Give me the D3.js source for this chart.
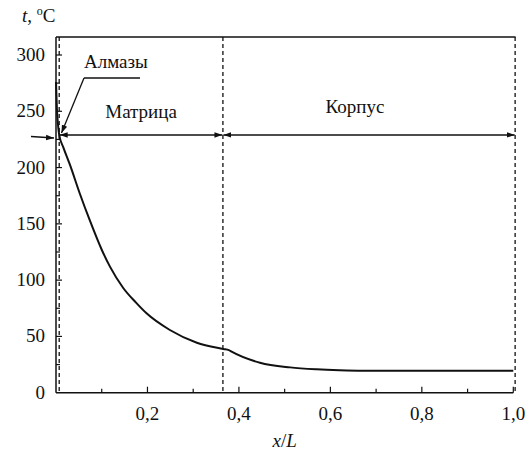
<!DOCTYPE html>
<html><head><meta charset="utf-8">
<script src="https://cdn.jsdelivr.net/npm/d3@7"></script>
<style>body{margin:0;background:#fff}svg{display:block}</style>
</head><body><div id="c"></div>
<script>
const xVals = [0, 0.002, 0.004, 0.007, 0.016, 0.03, 0.052, 0.074, 0.1, 0.118, 0.147, 0.175, 0.198, 0.249, 0.308, 0.366, 0.378, 0.384, 0.446, 0.512, 0.57, 0.62, 0.67, 0.8, 1.0];
const tVals = [276, 252, 240, 229, 218, 203, 177, 153, 127, 112, 93, 80, 70.5, 55.7, 44.4, 38.8, 37.8, 36.4, 26.6, 22.5, 20.8, 20.0, 19.6, 19.6, 19.6];
const xTicks = [0.2, 0.4, 0.6, 0.8, 1.0];
const xTickLabels = ["0,2", "0,4", "0,6", "0,8", "1,0"];
const yTicks = [0, 50, 100, 150, 200, 250, 300];
const zoneBounds = [0.007, 0.365, 1.004];
const zoneNames = ["Матрица", "Корпус"];
const arrowLevel = 229;

const W = 531, H = 464;
const FONT = "'Liberation Serif', 'DejaVu Serif', 'Times New Roman', serif";
const svg = d3.select("#c").append("svg").attr("width", W).attr("height", H)
  .attr("font-family", FONT).style("font-family", FONT);
const x = d3.scaleLinear([0, 1], [56, 513.3]);
const y = d3.scaleLinear([0, 316], [392.7, 37]);

const defs = svg.append("defs");
defs.append("marker").attr("id", "ah").attr("viewBox", "0 0 10 10").attr("refX", 10).attr("refY", 5)
  .attr("markerWidth", 8).attr("markerHeight", 8).attr("markerUnits", "userSpaceOnUse").attr("orient", "auto-start-reverse")
  .append("path").attr("d", "M0,1.5 L10,5 L0,8.5 Z").attr("fill", "#111");

const g = svg.append("g");
g.append("line").attr("x1", x(0)).attr("x2", x(0)).attr("y1", y(316)).attr("y2", y(0)).attr("stroke", "#111").attr("stroke-width", 1.5);
g.append("line").attr("x1", x(0)).attr("x2", x(1)).attr("y1", y(0)).attr("y2", y(0)).attr("stroke", "#111").attr("stroke-width", 1.5);
g.append("line").attr("x1", x(0)).attr("x2", x(1.005)).attr("y1", y(316)).attr("y2", y(316)).attr("stroke", "#111").attr("stroke-width", 1.5);

const xAll = d3.range(1, 11).map(d => d / 10);
g.selectAll(".xt").data(xAll).join("line")
  .attr("x1", d => x(d)).attr("x2", d => x(d)).attr("y1", y(0)).attr("y2", (d, i) => y(0) - ((i % 2) ? 6 : 4))
  .attr("stroke", "#111").attr("stroke-width", 1.2);
g.selectAll(".xl").data(xTicks).join("text")
  .attr("x", d => x(d)).attr("y", y(0) + 27).attr("text-anchor", "middle").attr("font-size", 19).attr("fill", "#111")
  .text((d, i) => xTickLabels[i]);

const yAll = d3.range(25, 326, 25).filter(v => v < 316);
g.selectAll(".yt").data(yAll).join("line")
  .attr("x1", x(0)).attr("x2", d => x(0) + (d % 50 === 0 ? 6 : 4)).attr("y1", d => y(d)).attr("y2", d => y(d))
  .attr("stroke", "#111").attr("stroke-width", 1.2);
g.selectAll(".yl").data(yTicks).join("text")
  .attr("x", 45).attr("y", d => y(d) + 6).attr("text-anchor", "end").attr("font-size", 19).attr("fill", "#111")
  .text(d => d);

g.selectAll(".zb").data(zoneBounds).join("line")
  .attr("x1", d => x(d)).attr("x2", d => x(d)).attr("y1", y(316)).attr("y2", y(0))
  .attr("stroke", "#111").attr("stroke-width", 1.3).attr("stroke-dasharray", "4,3");

const pts = xVals.map((v, i) => [v, tVals[i]]);
g.append("path").datum(pts)
  .attr("d", d3.line().x(d => x(d[0])).y(d => y(d[1])).curve(d3.curveMonotoneX))
  .attr("fill", "none").attr("stroke", "#111").attr("stroke-width", 2);

for (let i = 0; i < 2; i++) {
  g.append("line").attr("x1", x(zoneBounds[i]) + 0.5).attr("x2", x(zoneBounds[i + 1]) - 0.5)
    .attr("y1", y(arrowLevel)).attr("y2", y(arrowLevel))
    .attr("stroke", "#111").attr("stroke-width", 1.5)
    .attr("marker-start", "url(#ah)").attr("marker-end", "url(#ah)");
}
g.append("text").attr("x", (x(zoneBounds[0]) + x(zoneBounds[1])) / 2).attr("y", 118).attr("text-anchor", "middle").attr("font-size", 19).attr("fill", "#111").text(zoneNames[0]);
g.append("text").attr("x", 355).attr("y", 113).attr("text-anchor", "middle").attr("font-size", 19).attr("fill", "#111").text(zoneNames[1]);

g.append("line").attr("x1", 31).attr("y1", 136.5).attr("x2", 54).attr("y2", 138)
  .attr("stroke", "#111").attr("stroke-width", 1.3).attr("marker-end", "url(#ah)");

g.append("text").attr("x", 84).attr("y", 68).attr("font-size", 19).attr("fill", "#111").text("Алмазы");
g.append("line").attr("x1", 84).attr("x2", 140).attr("y1", 78).attr("y2", 78).attr("stroke", "#111").attr("stroke-width", 1.3);
g.append("line").attr("x1", 84).attr("y1", 78).attr("x2", 61.5).attr("y2", 133)
  .attr("stroke", "#111").attr("stroke-width", 1.3).attr("marker-end", "url(#ah)");

const ty = g.append("text").attr("x", 22).attr("y", 22).attr("font-size", 19).attr("fill", "#111");
ty.append("tspan").attr("font-style", "italic").text("t");
ty.append("tspan").text(",  ");
ty.append("tspan").attr("font-size", 12).attr("dy", -7).text("o");
ty.append("tspan").attr("dy", 7).text("C");
const tx = g.append("text").attr("x", x(0.5)).attr("y", 447).attr("text-anchor", "middle").attr("font-size", 19).attr("fill", "#111");
tx.append("tspan").attr("font-style", "italic").text("x");
tx.append("tspan").text("/");
tx.append("tspan").attr("font-style", "italic").text("L");
</script></body></html>
